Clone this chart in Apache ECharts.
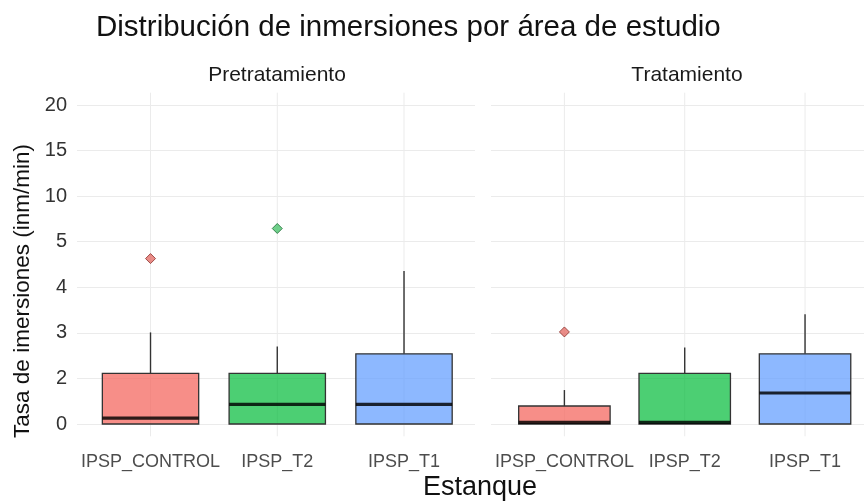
<!DOCTYPE html>
<html><head><meta charset="utf-8">
<script src="https://cdn.jsdelivr.net/npm/echarts@6/dist/echarts.min.js"></script>
<style>html,body{margin:0;padding:0;background:#fff}#c{width:864px;height:503px}</style>
</head><body><div id="c"></div>
<script>
const categories = ['IPSP_CONTROL', 'IPSP_T2', 'IPSP_T1'];
const facets = ['Pretratamiento', 'Tratamiento'];
const yTickLabels = ['0', '2', '3', '4', '5', '10', '15', '20'];
// box stats in axis-position units (tick index): [low, q1, median, q3, high]
const preBoxes = [[0, 0, 0.13, 1.11, 2.01], [0, 0, 0.43, 1.11, 1.70], [0, 0, 0.43, 1.54, 3.36]];
const postBoxes = [[0, 0, 0.035, 0.395, 0.745], [0, 0, 0.035, 1.11, 1.68], [0, 0, 0.68, 1.54, 2.41]];
// outliers: [category index, value]
const preOutliers = [[0, 3.63], [1, 4.29]];
const postOutliers = [[0, 2.02]];

const fills = ['rgba(244,104,96,0.75)', 'rgba(0,186,56,0.7)', 'rgba(97,156,255,0.72)'];
const pointFills = ['#e5706a', '#4cc46e', '#7aa8f5'];
const pointBorders = ['#8a2f2a', '#1c6b33', '#2f4f8f'];
const FONT = 'Liberation Sans, Arial, sans-serif';

function renderBox(params, api) {
  const x = api.value(0);
  const low = api.value(1), q1 = api.value(2), med = api.value(3), q3 = api.value(4), high = api.value(5);
  const ci = api.value(6);
  const w = api.size([0.76, 0])[0];
  const pQ3 = api.coord([x, q3]), pQ1 = api.coord([x, q1]), pMed = api.coord([x, med]);
  const pHigh = api.coord([x, high]), pLow = api.coord([x, low]);
  return {
    type: 'group', children: [
      { type: 'line', shape: { x1: pQ3[0], y1: pQ3[1], x2: pHigh[0], y2: pHigh[1] }, style: { stroke: '#333', lineWidth: 1.4 } },
      { type: 'line', shape: { x1: pQ1[0], y1: pQ1[1], x2: pLow[0], y2: pLow[1] }, style: { stroke: '#333', lineWidth: 1.4 } },
      { type: 'rect', shape: { x: pQ3[0] - w / 2, y: pQ3[1], width: w, height: pQ1[1] - pQ3[1] }, style: { fill: fills[ci], stroke: '#333', lineWidth: 1.3 } },
      { type: 'line', shape: { x1: pMed[0] - w / 2, y1: pMed[1], x2: pMed[0] + w / 2, y2: pMed[1] }, style: { stroke: 'rgba(0,0,0,0.82)', lineWidth: 3.2 } }
    ]
  };
}
function renderVGrid(params, api) {
  const x = api.value(0);
  const a = api.coord([x, -0.27]), b = api.coord([x, 7.27]);
  return { type: 'line', shape: { x1: a[0], y1: a[1], x2: b[0], y2: b[1] }, style: { stroke: '#ebebeb', lineWidth: 1 } };
}

const panels = [
  { boxes: preBoxes, outliers: preOutliers, left: 77, width: 398, min: 0.42, max: 3.56 },
  { boxes: postBoxes, outliers: postOutliers, left: 491, width: 373, min: 0.39, max: 3.49 }
];

const grids = [], xAxes = [], yAxes = [], series = [];
panels.forEach((p, i) => {
  grids.push({ left: p.left, width: p.width, top: 105, height: 319 });
  xAxes.push({
    type: 'value', gridIndex: i, min: p.min, max: p.max,
    axisLine: { show: false }, axisTick: { show: false }, splitLine: { show: false },
    axisLabel: {
      customValues: [1, 2, 3], margin: 29, fontSize: 18, color: '#4d4d4d', fontFamily: FONT,
      formatter: v => (Math.abs(v - Math.round(v)) < 1e-6 && v >= 1 && v <= 3) ? categories[Math.round(v) - 1] : ''
    }
  });
  yAxes.push({
    type: 'value', gridIndex: i, min: 0, max: 7, interval: 1,
    axisLine: { show: false }, axisTick: { show: false },
    splitLine: { show: true, lineStyle: { color: '#ebebeb', width: 1 } },
    axisLabel: { show: i === 0, formatter: v => yTickLabels[v], fontSize: 20, color: '#333', margin: 10, fontFamily: FONT }
  });
  series.push({
    type: 'custom', xAxisIndex: i, yAxisIndex: i, clip: false, z: 1, silent: true,
    renderItem: renderVGrid, data: [[1], [2], [3]], encode: { x: 0 }
  });
  series.push({
    type: 'custom', xAxisIndex: i, yAxisIndex: i, z: 3, renderItem: renderBox,
    data: p.boxes.map((b, k) => [k + 1, b[0], b[1], b[2], b[3], b[4], k]),
    encode: { x: 0, y: [1, 2, 3, 4, 5] }
  });
  series.push({
    type: 'scatter', xAxisIndex: i, yAxisIndex: i, z: 4, symbol: 'diamond', symbolSize: [10, 10],
    data: p.outliers.map(o => ({ value: [o[0] + 1, o[1]], itemStyle: { color: pointFills[o[0]], borderColor: pointBorders[o[0]], borderWidth: 1 } }))
  });
});

const chart = echarts.init(document.getElementById('c'), null, { renderer: 'canvas' });
chart.setOption({
  backgroundColor: '#fff',
  animation: false,
  title: { text: 'Distribución de inmersiones por área de estudio', left: 91, top: 8, textStyle: { fontSize: 29.5, fontWeight: 'normal', color: '#111', fontFamily: FONT } },
  graphic: [
    { type: 'text', x: 277, y: 75, style: { text: facets[0], font: '21px ' + FONT, fill: '#1a1a1a', textAlign: 'center', textVerticalAlign: 'middle' } },
    { type: 'text', x: 687, y: 75, style: { text: facets[1], font: '21px ' + FONT, fill: '#1a1a1a', textAlign: 'center', textVerticalAlign: 'middle' } },
    { type: 'text', x: 480, y: 488, style: { text: 'Estanque', font: '27px ' + FONT, fill: '#111', textAlign: 'center', textVerticalAlign: 'middle' } },
    { type: 'text', x: 23, y: 291, rotation: Math.PI / 2, style: { text: 'Tasa de imersiones (inm/min)', font: '22.5px ' + FONT, fill: '#111', textAlign: 'center', textVerticalAlign: 'middle' } }
  ],
  grid: grids, xAxis: xAxes, yAxis: yAxes, series: series
});
</script></body></html>
